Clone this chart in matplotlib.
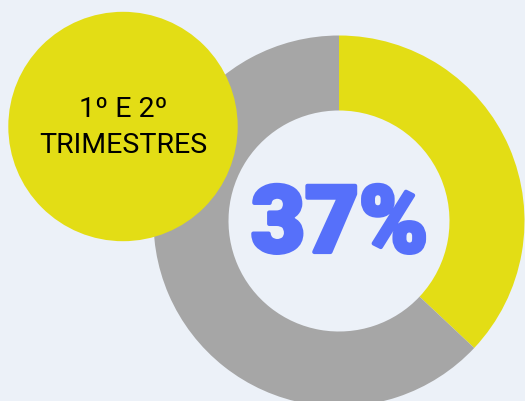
import matplotlib
matplotlib.use("Agg")
import matplotlib.pyplot as plt
from matplotlib.patches import Circle
import matplotlib.patheffects as pe

# share of the year
labels = ["1º e 2º trimestres", "restante"]
shares = [37, 63]
badge_lines = ["1º E 2º", "TRIMESTRES"]
big_label = "37%"

bg = "#ECF1F8"
yellow = "#E3DD15"
grey = "#A6A6A6"
blue = "#5670FA"

W, H = 525, 401
fig = plt.figure(figsize=(W / 100, H / 100), dpi=100, facecolor=bg)
ax = fig.add_axes([0, 0, 1, 1])
ax.set_facecolor(bg)

# donut
ax.pie(shares, colors=[yellow, grey], startangle=90, counterclock=False,
       center=(339, 180), radius=185.5,
       wedgeprops=dict(width=75, linewidth=0))

# thick outline to get a heavier look
ax.text(339.5, 149, big_label, ha="center", va="baseline", fontsize=67,
        fontweight=900, family="Roboto", color=blue,
        path_effects=[pe.withStroke(linewidth=3, foreground=blue)])

# badge circle
ax.add_patch(Circle((123, 274.5), 114.7, color=yellow, lw=0, zorder=5))
ax.text(123, 284, badge_lines[0], ha="center", va="baseline", fontsize=20.5,
        fontweight=400, family="Roboto", color="black", zorder=6)
ax.text(123, 248, badge_lines[1], ha="center", va="baseline", fontsize=20.5,
        fontweight=400, family="Roboto", color="black", zorder=6)

ax.set_xlim(0, W)
ax.set_ylim(0, H)
ax.set_aspect("auto")
ax.axis("off")

fig.savefig("out.png", dpi=100, facecolor=bg)
